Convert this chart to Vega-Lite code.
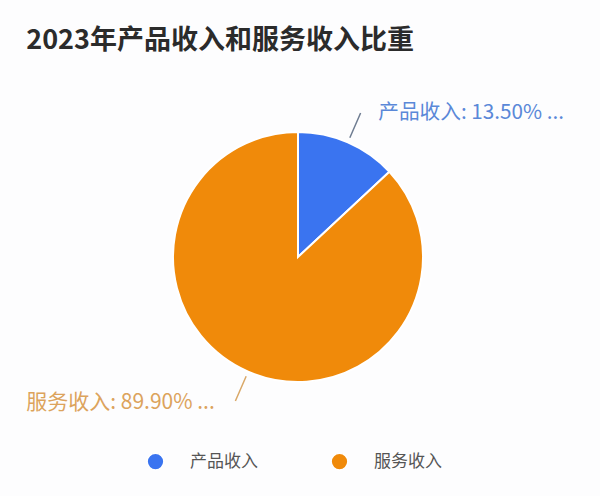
{
  "$schema": "https://vega.github.io/schema/vega-lite/v6.json",
  "width": 600,
  "height": 496,
  "autosize": {"type": "fit", "contains": "padding"},
  "padding": {"left": 35, "right": 39, "top": 28, "bottom": 23},
  "background": "#fdfdfe",
  "title": {
    "text": "2023年产品收入和服务收入比重",
    "anchor": "start",
    "font": "Noto Sans CJK SC",
    "fontSize": 27,
    "fontWeight": "bold",
    "color": "#2b2b2b",
    "offset": 33
  },
  "data": {
    "values": [
      {"cat": "产品收入", "value": 13.5, "label": "产品收入: 13.50% ..."},
      {"cat": "服务收入", "value": 89.9, "label": "服务收入: 89.90% ..."}
    ]
  },
  "encoding": {
    "theta": {"field": "value", "type": "quantitative", "stack": true},
    "detail": {"field": "cat"}
  },
  "layer": [
    {
      "mark": {"type": "arc", "radius": 125, "stroke": "#ffffff", "strokeWidth": 2},
      "encoding": {
        "color": {
          "field": "cat",
          "type": "nominal",
          "scale": {"domain": ["产品收入", "服务收入"], "range": ["#3a74f0", "#f08a0a"]},
          "legend": {
            "orient": "bottom",
            "direction": "horizontal",
            "title": " ",
            "titleOrient": "left",
            "titlePadding": 111,
            "symbolType": "circle",
            "symbolSize": 280,
            "labelFont": "Noto Sans CJK SC",
            "labelFontSize": 17,
            "labelColor": "#555555",
            "labelOffset": 25,
            "columnPadding": 70,
            "offset": 27
          }
        }
      }
    },
    {
      "mark": {"type": "arc", "radius": 130, "radius2": 157, "padAngle": 3.1416, "fill": null, "stroke": "#6f7d92", "strokeWidth": 1.5},
      "encoding": {
        "strokeOpacity": {"condition": {"test": "datum.cat === '产品收入'", "value": 1}, "value": 0}
      }
    },
    {
      "mark": {"type": "arc", "radius": 130, "radius2": 157, "padAngle": 3.1416, "fill": null, "stroke": "#d9a868", "strokeWidth": 1.5},
      "encoding": {
        "theta": {"field": "value", "type": "quantitative", "stack": true, "scale": {"range": [3.14159, 9.42478]}},
        "strokeOpacity": {"condition": {"test": "datum.cat === '产品收入'", "value": 1}, "value": 0}
      }
    },
    {
      "mark": {"type": "text", "radius": 166, "align": "left", "baseline": "middle", "dx": 14, "dy": 8, "font": "Noto Sans CJK SC", "fontSize": 20.7, "color": "#5a88d8"},
      "encoding": {
        "text": {"condition": {"test": "datum.cat === '产品收入'", "field": "label"}, "value": ""}
      }
    },
    {
      "mark": {"type": "text", "radius": 166, "align": "right", "baseline": "middle", "dx": -17, "dy": -6, "font": "Noto Sans CJK SC", "fontSize": 21, "color": "#dca35c"},
      "encoding": {
        "text": {"condition": {"test": "datum.cat === '服务收入'", "field": "label"}, "value": ""}
      }
    }
  ],
  "resolve": {"scale": {"theta": "independent"}},
  "config": {"view": {"stroke": null}}
}
